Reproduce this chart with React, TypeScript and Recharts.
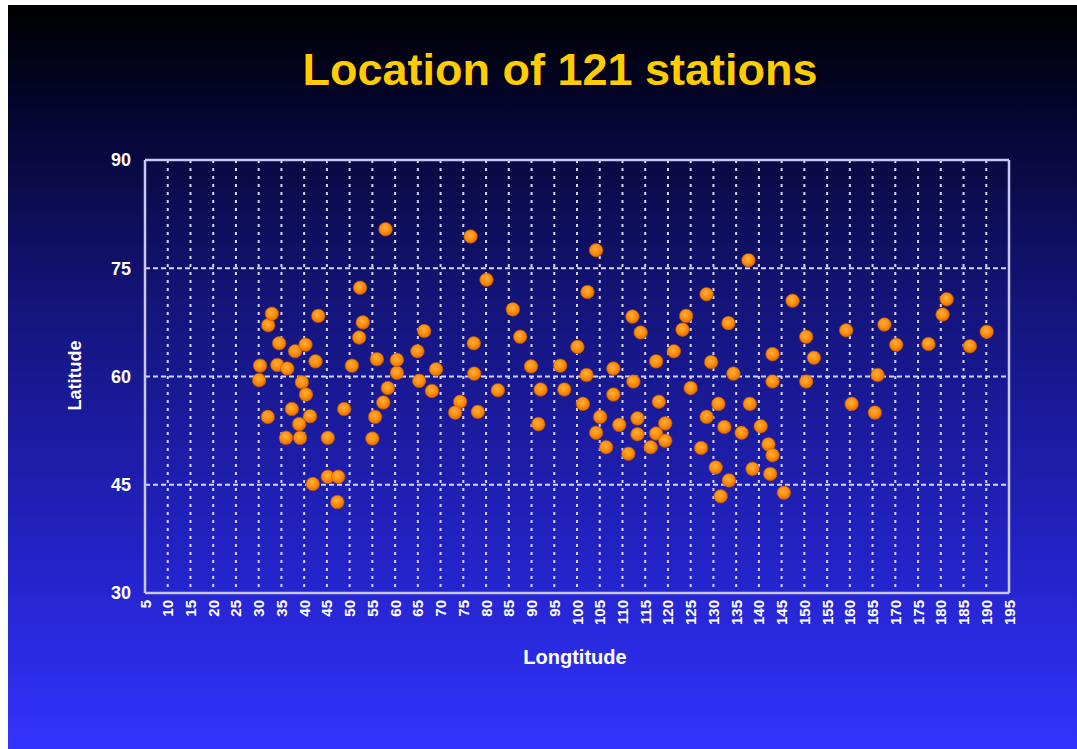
import { ScatterChart, Scatter, XAxis, YAxis, CartesianGrid, ReferenceLine } from 'recharts';

// station coordinates (degrees)
const stationLon = [
  30.3, 30.1, 32.1, 32.9, 32.0, 34.5, 34.1, 36.3, 36.0, 37.3,
  38.0, 40.3, 39.5, 40.4, 38.9, 39.1, 41.3, 42.5, 43.1, 41.9,
  45.2, 45.2, 47.5, 47.3, 48.8, 50.5, 52.3, 52.1, 52.9, 55.0,
  55.6, 56.0, 57.4, 57.9, 58.4, 60.4, 60.4, 76.6, 80.1, 85.9,
  87.5, 66.4, 64.9, 77.3, 69.0, 89.9, 96.3, 65.3, 77.4, 68.1,
  82.6, 92.0, 97.2, 74.3, 73.2, 78.2, 91.5, 104.2, 137.7, 102.3,
  128.5, 147.4, 112.2, 124.0, 114.0, 123.2, 133.3, 150.4, 100.1, 121.3,
  143.0, 117.4, 129.5, 108.0, 102.1, 134.4, 112.4, 125.0, 143.0, 150.4,
  108.0, 101.3, 118.0, 131.1, 138.0, 105.1, 113.3, 128.5, 109.3, 119.4,
  132.4, 140.4, 104.2, 113.3, 117.4, 136.2, 119.4, 106.4, 116.2, 111.3,
  127.3, 142.1, 143.0, 130.5, 138.6, 142.5, 133.4, 131.6, 145.5, 181.3,
  180.4, 167.6, 159.2, 190.1, 170.2, 177.3, 186.4, 152.1, 166.1, 160.4,
  165.5,
];

const stationLat = [
  61.5, 59.5, 67.1, 68.7, 54.4, 64.6, 61.6, 61.1, 51.5, 55.5,
  63.5, 64.4, 59.2, 57.5, 53.4, 51.5, 54.5, 62.1, 68.4, 45.1,
  51.5, 46.1, 46.1, 42.6, 55.5, 61.5, 72.3, 65.4, 67.5, 51.4,
  54.4, 62.4, 56.4, 80.4, 58.4, 60.5, 62.3, 79.4, 73.4, 69.3,
  65.5, 66.3, 63.5, 64.6, 61.0, 61.4, 61.5, 59.4, 60.4, 58.0,
  58.1, 58.2, 58.2, 56.5, 55.0, 55.1, 53.4, 77.5, 76.1, 71.7,
  71.4, 70.5, 68.3, 68.4, 66.1, 66.5, 67.4, 65.5, 64.1, 63.5,
  63.1, 62.1, 62.0, 61.1, 60.2, 60.4, 59.3, 58.4, 59.3, 59.3,
  57.5, 56.2, 56.5, 56.2, 56.2, 54.4, 54.2, 54.4, 53.3, 53.5,
  53.0, 53.1, 52.2, 52.0, 52.1, 52.2, 51.1, 50.2, 50.2, 49.3,
  50.1, 50.6, 49.1, 47.4, 47.2, 46.5, 45.6, 43.4, 43.9, 70.7,
  68.6, 67.2, 66.4, 66.2, 64.4, 64.5, 64.2, 62.6, 60.2, 56.2,
  55.0,
];

const lonTicks = [
  5, 10, 15, 20, 25, 30, 35, 40, 45, 50, 55, 60, 65, 70, 75, 80, 85, 90, 95, 100,
  105, 110, 115, 120, 125, 130, 135, 140, 145, 150, 155, 160, 165, 170, 175, 180, 185, 190, 195,
];
const latTicks = [30, 45, 60, 75, 90];

const stations = stationLon.map((lon, i) => ({ lon, lat: stationLat[i] }));

const axisColor = '#c8c8f4';
const gridColor = '#d4d4fa';

function LonTick({ x, y, payload }: any) {
  return (
    <text
      x={x}
      y={y}
      transform={`rotate(-90 ${x} ${y})`}
      textAnchor="end"
      dominantBaseline="central"
      fill="#ffffff"
      fontSize={15}
      fontWeight="bold"
    >
      {payload.value}
    </text>
  );
}

function StationDot({ cx, cy }: any) {
  if (cx == null || cy == null) return null;
  return <circle cx={cx} cy={cy} r={6.8} fill="url(#stationDot)" stroke="#b85800" strokeWidth={0.6} />;
}

export default function App() {
  return (
    <div
      style={{
        position: 'absolute',
        left: 8,
        top: 5,
        width: 1069,
        height: 744,
        background: 'linear-gradient(to bottom, #000000 0%, #05052e 14%, #14147a 40%, #2323c8 75%, #3333ff 100%)',
        fontFamily: '"Liberation Sans", Arial, sans-serif',
        overflow: 'hidden',
      }}
    >
      <svg width={0} height={0} style={{ position: 'absolute' }}>
        <defs>
          <radialGradient id="stationDot" cx="45%" cy="40%" r="60%">
            <stop offset="0%" stopColor="#ffb040" />
            <stop offset="55%" stopColor="#ff8f0a" />
            <stop offset="100%" stopColor="#e06a00" />
          </radialGradient>
        </defs>
      </svg>

      <div
        style={{
          position: 'absolute',
          left: 0,
          width: 1104,
          top: 40,
          textAlign: 'center',
          color: '#ffcc00',
          fontSize: 45,
          fontWeight: 'bold',
          lineHeight: '50px',
          textShadow: '1px 1px 2px #000000',
        }}
      >
        Location of 121 stations
      </div>

      <ScatterChart
        width={1069}
        height={744}
        margin={{ top: 155, right: 68, bottom: 96, left: 77 }}
      >
        <CartesianGrid
          horizontal={false}
          stroke={gridColor}
          strokeWidth={2}
          strokeDasharray="3 5"
        />
        <CartesianGrid
          vertical={false}
          stroke={gridColor}
          strokeWidth={2}
          strokeDasharray="5 3"
        />
        <XAxis
          type="number"
          dataKey="lon"
          domain={[5, 195]}
          ticks={lonTicks}
          interval={0}
          height={60}
          tickSize={0}
          tickMargin={7}
          tick={<LonTick />}
          axisLine={{ stroke: axisColor, strokeWidth: 2.5 }}
          allowDataOverflow
        />
        <YAxis
          type="number"
          dataKey="lat"
          domain={[30, 90]}
          ticks={latTicks}
          interval={0}
          width={60}
          tickSize={0}
          tickMargin={14}
          tick={{ fill: '#ffffff', fontSize: 18, fontWeight: 'bold' }}
          axisLine={{ stroke: axisColor, strokeWidth: 2.5 }}
          allowDataOverflow
        />
        <ReferenceLine y={90} stroke={axisColor} strokeWidth={2.5} />
        <ReferenceLine x={195} stroke={axisColor} strokeWidth={2.5} />
        <Scatter data={stations} shape={<StationDot />} isAnimationActive={false} />
      </ScatterChart>

      <div
        style={{
          position: 'absolute',
          left: 467,
          width: 200,
          top: 641,
          textAlign: 'center',
          color: '#ffffff',
          fontSize: 20,
          fontWeight: 'bold',
        }}
      >
        Longtitude
      </div>
      <div
        style={{
          position: 'absolute',
          left: 67 - 60,
          width: 120,
          top: 372 - 12,
          textAlign: 'center',
          color: '#ffffff',
          fontSize: 18,
          fontWeight: 'bold',
          transform: 'rotate(-90deg)',
        }}
      >
        Latitude
      </div>
    </div>
  );
}
